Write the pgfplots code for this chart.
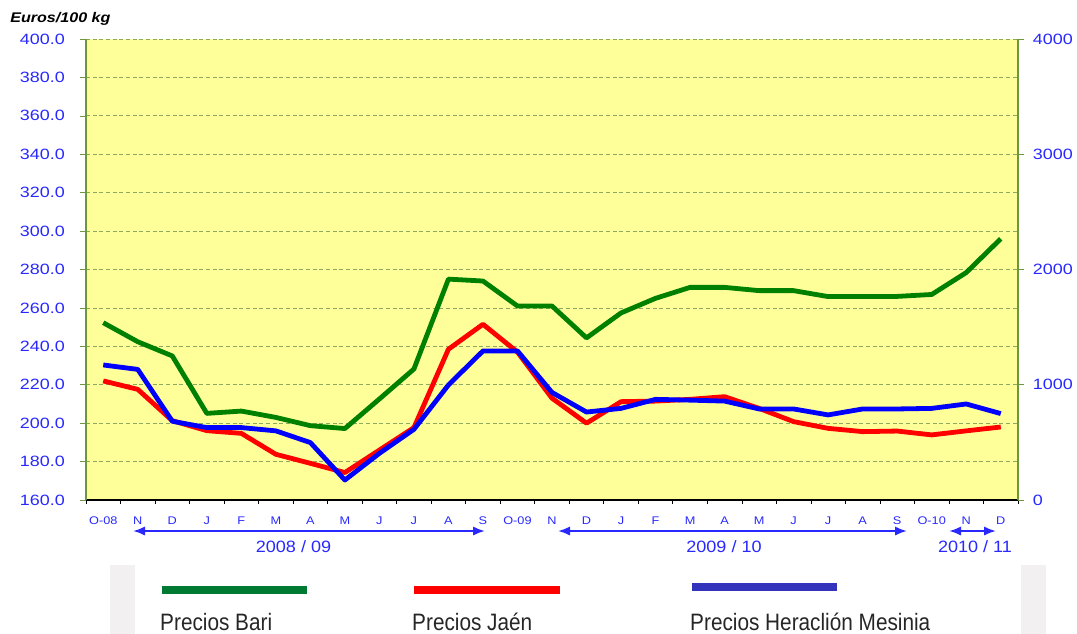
\documentclass[border=0pt]{standalone}
\usepackage{pgfplots}
\pgfplotsset{compat=1.18}
\usepackage{fontspec}
\setmainfont{Liberation Sans}
\usetikzlibrary{arrows.meta}
\definecolor{bg}{RGB}{255,255,153}
\definecolor{gridc}{RGB}{140,170,100}
\definecolor{tickblue}{RGB}{40,40,255}
\definecolor{cgreen}{RGB}{0,128,0}
\definecolor{cred}{RGB}{255,0,0}
\definecolor{cblue}{RGB}{0,0,255}
\definecolor{frameg}{RGB}{110,150,60}
\definecolor{lgreen}{RGB}{0,122,51}
\definecolor{lblue}{RGB}{51,51,187}
\definecolor{lgray}{RGB}{242,240,240}
\begin{document}
\begin{tikzpicture}
\path[use as bounding box] (0,0) rectangle (807.75pt,-474.75pt);
\begin{axis}[
  at={(64.5pt,-375pt)}, anchor=south west,
  scale only axis, width=699pt, height=345.75pt,
  xmin=-0.5, xmax=26.5, ymin=160, ymax=400,
  axis background/.style={fill=bg},
  axis x line*=bottom, axis y line*=left,
  x axis line style={black, line width=0.8pt, -},
  y axis line style={frameg, line width=0.8pt, -},
  tick align=outside,
  xtick={0,...,26},
  xticklabels={O-08,N,D,J,F,M,A,M,J,J,A,S,O-09,N,D,J,F,M,A,M,J,J,A,S,O-10,N,D},
  major x tick style={draw=none},
  minor xtick={-0.5,0.5,...,26.5},
  minor x tick style={black, line width=0.5pt},
  minor tick length=3pt,
  major tick length=4.5pt,
  ytick={160,180,...,400},
  y tick style={frameg, line width=0.5pt},
  ymajorgrids, grid style={gridc, densely dashed, line width=0.6pt},
  yticklabel style={/pgf/number format/fixed, /pgf/number format/fixed zerofill, /pgf/number format/precision=1, font=\fontsize{11.2}{12}\selectfont, text=tickblue, xscale=1.2, xshift=-6pt},
  xticklabel style={font=\fontsize{8.3}{9}\selectfont, text=tickblue, xscale=1.15, yshift=-4.5pt},
  /pgf/number format/assume math mode=true,
  line join=round,
]
\addplot[cgreen, line width=3.6pt] coordinates {
(0,252.3) (1,242.4) (2,235) (3,205.1) (4,206.3) (5,203) (6,198.7) (7,197.2) (8,212.6) (9,228.2) (10,275) (11,274) (12,261)
(13,261) (14,244.4) (15,257.4) (16,265) (17,270.7) (18,270.7) (19,269) (20,269) (21,265.9) (22,266) (23,266) (24,267) (25,278.4) (26,296)};
\addplot[cred, line width=3.6pt] coordinates {
(0,222) (1,217.6) (2,201.3) (3,196.1) (4,194.7) (5,183.8) (6,179.1) (7,174.3) (8,186) (9,197.7) (10,238.5) (11,251.5) (12,237)
(13,213) (14,200) (15,211.2) (16,211.5) (17,212.4) (18,213.8) (19,207.7) (20,200.8) (21,197.3) (22,195.6) (23,195.9) (24,193.9) (25,196) (26,198)};
\addplot[cblue, line width=3.6pt] coordinates {
(0,230.3) (1,228) (2,201) (3,197.7) (4,197.7) (5,196) (6,189.9) (7,170.4) (8,184.3) (9,196.8) (10,219.9) (11,237.6) (12,237.6)
(13,216) (14,205.8) (15,207.7) (16,212.4) (17,212) (18,211.5) (19,207.4) (20,207.4) (21,204.3) (22,207.4) (23,207.4) (24,207.7) (25,210) (26,205)};
\end{axis}
\begin{axis}[
  at={(64.5pt,-375pt)}, anchor=south west,
  scale only axis, width=699pt, height=345.75pt,
  xmin=-0.5, xmax=26.5, ymin=0, ymax=4000,
  axis x line=none, axis y line*=right,
  y axis line style={frameg, line width=0.8pt, -},
  tick align=outside, major tick length=4.5pt,
  ytick={0,1000,...,4000},
  y tick style={frameg, line width=0.5pt},
  scaled y ticks=false,
  yticklabel style={/pgf/number format/1000 sep={}, font=\fontsize{11.2}{12}\selectfont, text=tickblue, xscale=1.2, xshift=2pt},
  /pgf/number format/assume math mode=true,
]
\end{axis}
\begin{scope}[x=0.75pt,y=-0.75pt]
\node[anchor=west, inner sep=0, font=\bfseries\itshape\fontsize{10.5}{12}\selectfont, xscale=1.15] at (10,19) {Euros/100 kg};
\draw[tickblue, line width=1.6pt, {Latex[length=9pt,width=7pt]}-{Latex[length=9pt,width=7pt]}] (133,531) -- (485,531);
\draw[tickblue, line width=1.6pt, {Latex[length=9pt,width=7pt]}-{Latex[length=9pt,width=7pt]}] (558,531) -- (907,531);
\draw[tickblue, line width=1.6pt, {Latex[length=9pt,width=7pt]}-{Latex[length=9pt,width=7pt]}] (949,531) -- (996,531);
\node[text=tickblue, font=\fontsize{12.3}{14}\selectfont, xscale=1.1] at (293.5,547) {2008 / 09};
\node[text=tickblue, font=\fontsize{12.3}{14}\selectfont, xscale=1.1] at (724,547) {2009 / 10};
\node[text=tickblue, font=\fontsize{12.3}{14}\selectfont, xscale=1.1] at (975,547) {2010 / 11};
\fill[lgray] (110,565) rectangle (135,640);
\fill[lgray] (1021,565) rectangle (1046,640);
\fill[lgreen] (162,586) rectangle (307,594);
\fill[cred] (414,586) rectangle (560,594);
\fill[lblue] (692,583) rectangle (837,591);
\node[anchor=base west, inner sep=0, text depth=0pt, font=\fontsize{17.8}{20}\selectfont, xscale=0.875, text=black!85] at (160,630) {Precios Bari};
\node[anchor=base west, inner sep=0, text depth=0pt, font=\fontsize{17.8}{20}\selectfont, xscale=0.875, text=black!85] at (412,630) {Precios Jaén};
\node[anchor=base west, inner sep=0, text depth=0pt, font=\fontsize{17.8}{20}\selectfont, xscale=0.875, text=black!85] at (690,630) {Precios Heraclión Mesinia};
\end{scope}
\end{tikzpicture}
\end{document}
